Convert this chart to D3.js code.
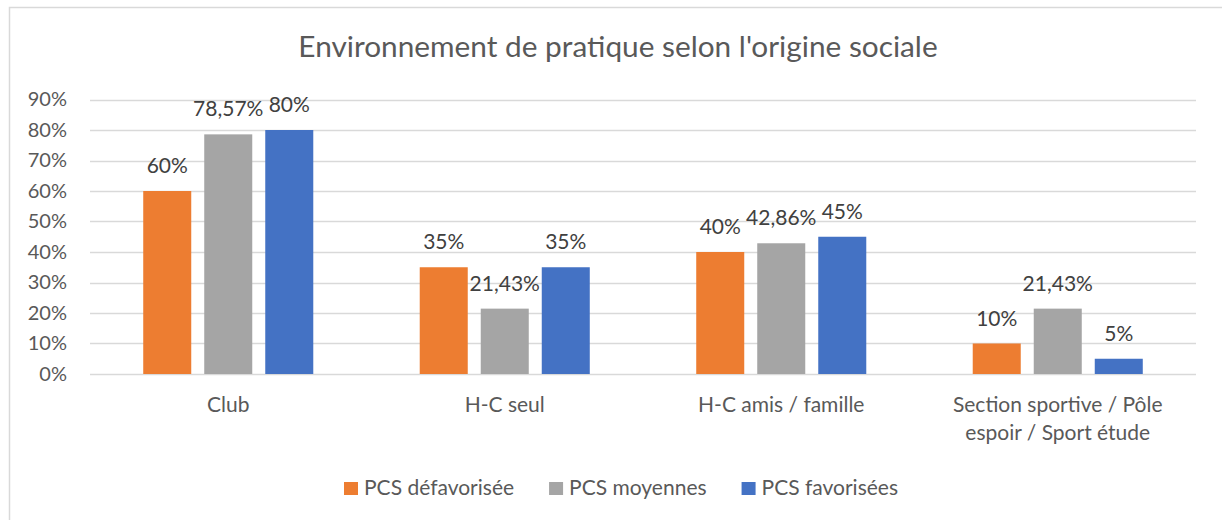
<!DOCTYPE html>
<html>
<head>
<meta charset="utf-8">
<title>Environnement de pratique</title>
<script src="https://d3js.org/d3.v7.min.js"></script>
<style>
  body { margin: 0; background: #fff; }
  svg { display: block; font-family: Lato, "Open Sans", sans-serif; }
</style>
</head>
<body>
<div id="chart"></div>
<script>
// données
const categories = ["Club", "H-C seul", "H-C amis / famille", "Section sportive / Pôle\nespoir / Sport étude"];
const series = ["PCS défavorisée", "PCS moyennes", "PCS favorisées"];
const defavorisee = [60, 35, 40, 10];
const moyennes = [78.57, 21.43, 42.86, 21.43];
const favorisees = [80, 35, 45, 5];
const yTicks = [0, 10, 20, 30, 40, 50, 60, 70, 80, 90];
const colors = ["#ED7D31", "#A5A5A5", "#4472C4"];

const width = 1222, height = 520;
const values = [defavorisee, moyennes, favorisees];

const svg = d3.select("#chart").append("svg")
  .attr("width", width)
  .attr("height", height);

// cadre
svg.append("rect")
  .attr("x", 9.5).attr("y", 7.5)
  .attr("width", 1300).attr("height", 600)
  .attr("fill", "none")
  .attr("stroke", "#d9d9d9")
  .attr("stroke-width", 1.5);

svg.append("text")
  .attr("x", 618)
  .attr("y", 57)
  .attr("text-anchor", "middle")
  .style("font-size", "29.8px")
  .style("fill", "#595959")
  .text("Environnement de pratique selon l'origine sociale");

const x0 = d3.scaleBand()
  .domain(categories)
  .range([90, 1196])
  .paddingInner(0.385)
  .paddingOuter(0.1925);

const x1 = d3.scaleBand()
  .domain(series)
  .range([0, x0.bandwidth()])
  .paddingInner(0.213)
  .paddingOuter(0);

const y = d3.scaleLinear()
  .domain([0, 90])
  .range([374, 99.5]);

// grille
svg.append("g")
  .selectAll("line")
  .data(yTicks)
  .join("line")
  .attr("x1", 90).attr("x2", 1196)
  .attr("y1", d => Math.round(y(d)) + 0.5)
  .attr("y2", d => Math.round(y(d)) + 0.5)
  .attr("stroke", "#d9d9d9")
  .attr("stroke-width", 1.5);

// axe Y
const yAxis = svg.append("g")
  .attr("transform", "translate(67,0)")
  .call(d3.axisLeft(y).tickValues(yTicks).tickSize(0).tickPadding(0).tickFormat(d => d + "%"));
yAxis.select(".domain").remove();
yAxis.selectAll("text")
  .style("font-size", "20px")
  .style("font-family", "Lato, 'Open Sans', sans-serif")
  .style("fill", "#595959");

// barres
const groups = svg.append("g")
  .selectAll("g")
  .data(categories)
  .join("g")
  .attr("transform", d => `translate(${x0(d)},0)`);

groups.selectAll("rect")
  .data((c, i) => series.map((s, k) => ({ s, k, v: values[k][i] })))
  .join("rect")
  .attr("x", d => x1(d.s))
  .attr("width", x1.bandwidth())
  .attr("y", d => y(d.v))
  .attr("height", d => y(0) - y(d.v))
  .attr("fill", d => colors[d.k]);

groups.selectAll("text.lbl")
  .data((c, i) => series.map((s, k) => ({ s, k, v: values[k][i] })))
  .join("text")
  .attr("class", "lbl")
  .attr("x", d => x1(d.s) + x1.bandwidth() / 2)
  .attr("y", d => y(d.v) - 18)
  .attr("text-anchor", "middle")
  .style("font-size", "21px")
  .style("fill", "#404040")
  .text(d => String(d.v).replace(".", ",") + "%");

// étiquettes de catégories
const catLabels = svg.append("g")
  .selectAll("text")
  .data(categories)
  .join("text")
  .attr("x", d => x0(d) + x0.bandwidth() / 2)
  .attr("y", 412)
  .attr("text-anchor", "middle")
  .style("font-size", "21px")
  .style("fill", "#595959");

catLabels.selectAll("tspan")
  .data(d => d.split("\n"))
  .join("tspan")
  .attr("x", function () { return d3.select(this.parentNode).attr("x"); })
  .attr("dy", (d, i) => i === 0 ? 0 : 28)
  .text(d => d);

// légende
const legend = svg.append("g");
const items = legend.selectAll("g")
  .data(series)
  .join("g");

items.append("rect")
  .attr("y", 482)
  .attr("width", 14).attr("height", 13)
  .attr("fill", (d, i) => colors[i]);

items.append("text")
  .attr("x", 20)
  .attr("y", 495)
  .style("font-size", "21px")
  .style("fill", "#595959")
  .text(d => d);

let cx = 0;
items.each(function () {
  const w = 20 + d3.select(this).select("text").node().getComputedTextLength();
  d3.select(this).attr("transform", `translate(${cx},0)`);
  cx += w + 35;
});
const total = cx - 35;
legend.attr("transform", `translate(${621 - total / 2},0)`);
</script>
</body>
</html>
